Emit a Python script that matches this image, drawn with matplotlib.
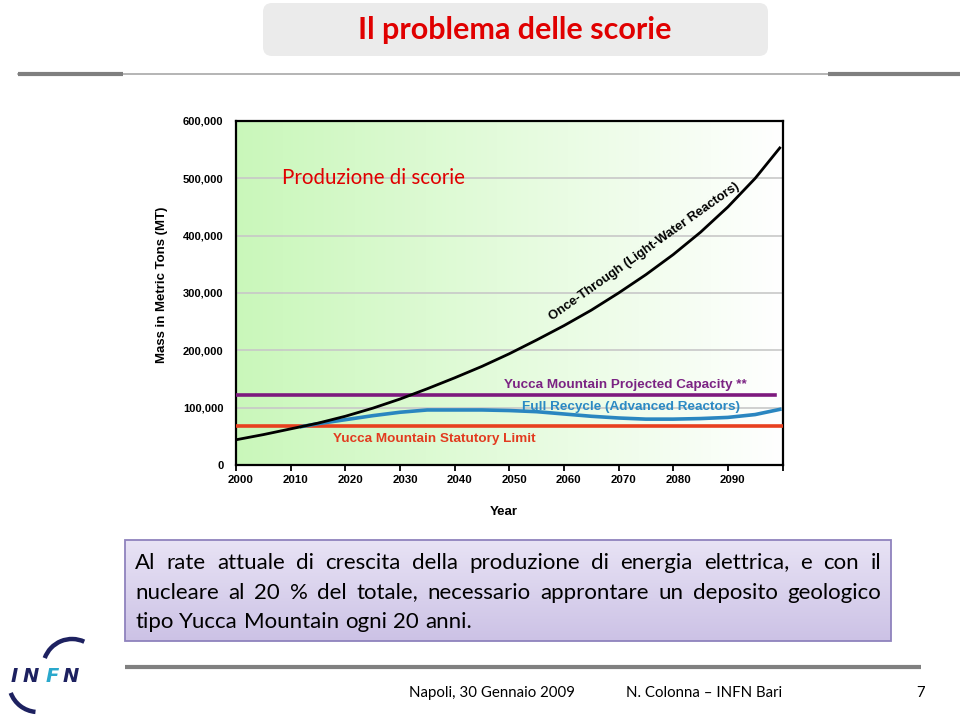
import math
import numpy as np
import matplotlib
matplotlib.use("Agg")
import matplotlib.pyplot as plt
from matplotlib.patches import FancyBboxPatch, Rectangle, Arc
import matplotlib.transforms as mtransforms
from matplotlib.backends.backend_agg import get_hinting_flag

# --- data (years, metric tons) ---
years_once = [2000, 2005, 2010, 2015, 2020, 2025, 2030, 2035, 2040, 2045, 2050,
              2055, 2060, 2065, 2070, 2075, 2080, 2085, 2090, 2095, 2099.5]
once_through = [44000, 53000, 63000, 73000, 85000, 99000, 115000, 133000, 152000, 172000, 194000,
                218000, 243000, 270000, 300000, 332000, 367000, 406000, 450000, 500000, 553000]

years_recycle = [2012, 2015, 2020, 2025, 2030, 2035, 2040, 2045, 2050, 2055, 2060,
                 2065, 2070, 2075, 2080, 2085, 2090, 2095, 2099.5]
full_recycle = [67000, 72000, 79000, 86000, 92000, 96000, 96000, 96000, 95000, 93000, 89000,
                85000, 82000, 80000, 80000, 81000, 83000, 88000, 97000]

projected_capacity = 122000
statutory_limit = 68000

x_ticks = list(range(2000, 2101, 10))
x_labels = [str(y) for y in range(2000, 2100, 10)] + [""]
y_ticks = list(range(0, 600001, 100000))
y_labels = ["0", "100,000", "200,000", "300,000", "400,000", "500,000", "600,000"]

body_lines = [
    "Al rate attuale di crescita della produzione di energia elettrica, e con il",
    "nucleare al 20 % del totale, necessario approntare un deposito geologico",
    "tipo Yucca Mountain ogni 20 anni.",
]

chart_font = "Liberation Sans"
slide_font = "Lato"

fig = plt.figure(figsize=(9.6, 7.2), dpi=100)

# slide background drawn in pixel coordinates
bg = fig.add_axes([0, 0, 1, 1], zorder=0)
bg.set_xlim(0, 960)
bg.set_ylim(720, 0)
bg.axis("off")

bg.add_patch(FancyBboxPatch((263, 3), 505, 53, boxstyle="round,pad=0,rounding_size=9",
                            facecolor="#ebebeb", edgecolor="none"))
bg.text(515, 30, "Il problema delle scorie", color="#e00000", fontsize=22, fontweight="bold",
        family=slide_font, ha="center", va="center")

bg.plot([18, 960], [74, 74], color="#a8a8a8", lw=1.2)
bg.plot([18, 123], [74, 74], color="#7f7f7f", lw=3, solid_capstyle="butt")
bg.plot([828, 960], [74, 74], color="#7f7f7f", lw=3, solid_capstyle="butt")

# lavender text box
grad = np.linspace(0, 1, 100).reshape(-1, 1)
top_c = np.array([0.91, 0.89, 0.96])
bot_c = np.array([0.80, 0.76, 0.90])
img = top_c + (bot_c - top_c) * grad[..., None]
bg.imshow(img, extent=(125, 891, 641, 540), aspect="auto", zorder=1)
bg.add_patch(Rectangle((125, 540), 766, 101, facecolor="none", edgecolor="#8f82bd", lw=1.3, zorder=2))

# bottom rule and footer
bg.plot([125, 921], [667, 667], color="#808080", lw=3, solid_capstyle="butt")
bg.text(492, 693, "Napoli, 30 Gennaio 2009", fontsize=10.8, family=slide_font, ha="center", va="center")
bg.text(704, 693, "N. Colonna \u2013 INFN Bari", fontsize=10.8, family=slide_font, ha="center", va="center")
bg.text(921, 693, "7", fontsize=10.8, family=slide_font, ha="center", va="center")

# INFN logo
bg.add_patch(Arc((72, 668), 58, 58, theta1=200, theta2=295, color="#1d2160", lw=3.2))
bg.add_patch(Arc((38, 683), 58, 58, theta1=95, theta2=160, color="#1d2160", lw=3.2))
logo_x = [14, 31, 52, 71]
for lx, ch, col in zip(logo_x, "INFN", ["#1d2160", "#1d2160", "#2aa8cc", "#1d2160"]):
    bg.text(lx, 676, ch, fontsize=14, fontweight="bold", style="italic", family="DejaVu Sans",
            color=col, ha="center", va="center")

bg.set_xlim(0, 960)
bg.set_ylim(720, 0)

# --- chart ---
ax = fig.add_axes([236 / 960, 1 - 465 / 720, 546.5 / 960, 344 / 720], zorder=2)
g = np.linspace(0, 1, 300).reshape(1, -1)
left_c = np.array([0.79, 0.97, 0.73])
green = left_c + (1 - left_c) * g[..., None]
ax.imshow(green, extent=(2000, 2100, 0, 600000), aspect="auto", zorder=0)

ax.set_xlim(2000, 2100)
ax.set_ylim(0, 600000)
ax.grid(axis="y", color="#c8c8c8", lw=1.2)
ax.set_axisbelow(True)

ax.axhline(projected_capacity, xmin=0, xmax=0.987, color="#7d1a7e", lw=2.6, zorder=3)
ax.axhline(statutory_limit, color="#e8401f", lw=2.6, zorder=3)
ax.plot(years_recycle, full_recycle, color="#2a86c0", lw=2.6, zorder=4)
ax.plot(years_once, once_through, color="black", lw=2, zorder=5)

ax.set_xticks(x_ticks)
ax.set_xticklabels(x_labels, fontsize=8.2, fontweight="bold", family=chart_font)
ax.set_yticks(y_ticks)
ax.set_yticklabels(y_labels, fontsize=8, fontweight="bold", family=chart_font)
ax.tick_params(axis="x", direction="out", length=4, width=1.3, pad=3.5)
ax.tick_params(axis="y", length=0, pad=9)
shift = mtransforms.ScaledTranslation(5 / 100, 0, fig.dpi_scale_trans)
for lab in ax.get_xticklabels():
    lab.set_transform(lab.get_transform() + shift)
for s in ax.spines.values():
    s.set_linewidth(1.6)

ax.text(0.49, -0.137, "Year", transform=ax.transAxes, fontsize=9.5, fontweight="bold",
        family=chart_font, ha="center", va="center")
ax.text(-0.1354, 0.523, "Mass in Metric Tons (MT)", transform=ax.transAxes, rotation=90,
        fontsize=9.5, fontweight="bold", family=chart_font, ha="center", va="center")

ax.text(2008.4, 500000, "Produzione di scorie", color="#e00000", fontsize=14.8,
        family=slide_font, ha="left", va="center", zorder=6)
ax.text(2074.8, 371500, "Once-Through (Light-Water Reactors)", rotation=35.3, rotation_mode="anchor",
        fontsize=9.3, fontweight="bold", family=chart_font, ha="center", va="center", zorder=6)
ax.text(2071.3, 139500, "Yucca Mountain Projected Capacity **", color="#7b2383", fontsize=9.7,
        fontweight="bold", family=chart_font, ha="center", va="center", zorder=6)
ax.text(2072.2, 101000, "Full Recycle (Advanced Reactors)", color="#2b8ac4", fontsize=9.7,
        fontweight="bold", family=chart_font, ha="center", va="center", zorder=6)
ax.text(2036.3, 45400, "Yucca Mountain Statutory Limit", color="#e23b1f", fontsize=9.7,
        fontweight="bold", family=chart_font, ha="center", va="center", zorder=6)

# justified body text, one Text per word
fig.canvas.draw()
renderer = fig.canvas.get_renderer()
x0, x1 = 135, 881


def snapped_baseline(word, prop, base):
    # agg rounds each string's bitmap on its own, so nudge y to keep the baselines level
    try:
        font = renderer._prepare_font(prop)
        font.set_text(word, 0, flags=get_hinting_flag())
        d = font.get_descent() / 64
        h = font.get_width_height()[1] / 64
        ymax = h - d
        return base + math.floor(ymax + d) - math.floor(ymax) - d
    except Exception:
        return base


for i, line in enumerate(body_lines):
    base = 569 + round(i * 29.5)
    words = line.split(" ")
    objs = [bg.text(0, base, w, fontsize=16, family=slide_font, ha="left", va="baseline", zorder=3)
            for w in words]
    widths = [o.get_window_extent(renderer).width for o in objs]
    if i < len(body_lines) - 1:
        gap = (x1 - x0 - sum(widths)) / (len(words) - 1)
    else:
        gap = 6
    x = x0
    for o, w in zip(objs, widths):
        o.set_x(x)
        o.set_y(snapped_baseline(o.get_text(), o.get_fontproperties(), base))
        x += w + gap

fig.savefig("out.png", dpi=100)
